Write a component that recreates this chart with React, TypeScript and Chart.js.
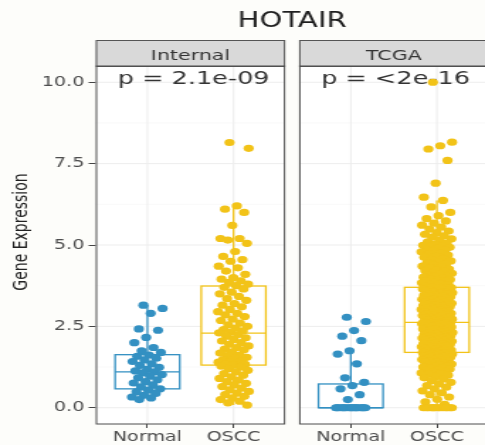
import React, { useEffect, useRef } from "react";
import { Chart, registerables } from "chart.js";

Chart.register(...registerables);

// ---------------- data ----------------
const chartTitle = "HOTAIR";
const yAxisTitle = "Gene Expression";
const panels = ["Internal", "TCGA"];
const groups = ["Normal", "OSCC"];
const pValueLabels = ["p = 2.1e-09", "p = <2e-16"];
const yTickValues = [0, 2.5, 5, 7.5, 10];

// box statistics: [lower whisker, q1, median, q3, upper whisker]
const internalNormalBox = [0.25, 0.58, 1.1, 1.63, 3.15];
const internalOsccBox = [0.08, 1.31, 2.29, 3.74, 6.2];
const tcgaNormalBox = [0, 0, 0, 0.73, 1.75];
const tcgaOsccBox = [0, 1.7, 2.62, 3.7, 6.37];

const internalNormal = [
  3.15, 3.05, 2.9, 2.42, 2.38, 2.16, 2.0, 1.85, 1.75, 1.7, 1.62, 1.58, 1.52,
  1.47, 1.42, 1.35, 1.3, 1.24, 1.18, 1.13, 1.1, 1.07, 1.02, 0.97, 0.92, 0.86,
  0.8, 0.76, 0.7, 0.64, 0.58, 0.54, 0.49, 0.44, 0.38, 0.33, 0.3, 0.25,
];

const internalOscc = [
  8.15, 7.97, 6.2, 6.1, 6.0, 5.6, 5.2, 5.2, 5.15, 5.05, 4.8, 4.65, 4.55, 4.5,
  4.35, 4.3, 4.2, 4.1, 4.0, 3.95, 3.9, 3.85, 3.8, 3.75, 3.7, 3.65, 3.55, 3.5,
  3.42, 3.35, 3.3, 3.2, 3.15, 3.1, 3.02, 2.95, 2.9, 2.85, 2.8, 2.72, 2.68, 2.6,
  2.55, 2.5, 2.45, 2.4, 2.36, 2.32, 2.3, 2.25, 2.2, 2.15, 2.1, 2.05, 2.0, 1.95,
  1.9, 1.85, 1.8, 1.78, 1.72, 1.68, 1.62, 1.6, 1.55, 1.52, 1.48, 1.45, 1.42,
  1.4, 1.38, 1.35, 1.33, 1.31, 1.28, 1.25, 1.2, 1.15, 1.1, 1.05, 1.0, 0.95, 0.9,
  0.85, 0.8, 0.75, 0.7, 0.65, 0.6, 0.55, 0.5, 0.45, 0.4, 0.35, 0.3, 0.25, 0.2,
  0.15, 0.08,
];

const tcgaNormal = [
  2.78, 2.65, 2.37, 2.2, 2.06, 1.75, 1.65, 1.35, 0.92, 0.78, 0.68, 0.58, 0.4,
  0.25, 0, 0, 0, 0, 0, 0, 0, 0, 0, 0, 0, 0, 0, 0, 0, 0, 0, 0,
];

const tcgaOscc = [
  10.0, 8.16, 8.05, 7.95, 7.6, 6.9, 6.47,
  6.37, 6.17, 6.0, 5.9, 5.81, 5.74, 5.67, 5.61, 5.55, 5.49, 5.43, 5.38, 5.33,
  5.28, 5.24, 5.19, 5.15, 5.1, 5.06, 5.02,
  4.99, 4.97, 4.95, 4.93, 4.91, 4.88, 4.85, 4.83, 4.79, 4.76, 4.72, 4.69, 4.65,
  4.62, 4.58, 4.55, 4.51, 4.49, 4.45, 4.42, 4.39, 4.35, 4.33, 4.3, 4.26, 4.24,
  4.21, 4.19, 4.15, 4.13, 4.1, 4.08, 4.05, 4.02, 4.01, 3.99, 3.96, 3.94, 3.91,
  3.9, 3.88, 3.85, 3.84, 3.81, 3.79, 3.78, 3.75, 3.73, 3.72, 3.7,
  3.69, 3.69, 3.68, 3.67, 3.66, 3.65, 3.64, 3.62, 3.61, 3.59, 3.58, 3.56, 3.55,
  3.53, 3.52, 3.5, 3.49, 3.47, 3.45, 3.44, 3.42, 3.41, 3.39, 3.38, 3.36, 3.35,
  3.33, 3.32, 3.3, 3.29, 3.27, 3.26, 3.24, 3.23, 3.21, 3.2, 3.18, 3.17, 3.15,
  3.14, 3.12, 3.11, 3.1, 3.08, 3.07, 3.05, 3.04, 3.02, 3.01, 2.99, 2.98, 2.96,
  2.95, 2.94, 2.92, 2.9, 2.89, 2.88, 2.86, 2.85, 2.83, 2.82, 2.8, 2.79, 2.77,
  2.76, 2.74, 2.73, 2.72, 2.7, 2.69, 2.67, 2.66, 2.64, 2.63,
  2.62, 2.61, 2.61, 2.6, 2.6, 2.59, 2.58, 2.57, 2.56, 2.55, 2.53, 2.52, 2.51,
  2.5, 2.48, 2.47, 2.46, 2.44, 2.43, 2.42, 2.4, 2.39, 2.38, 2.37, 2.35, 2.34,
  2.33, 2.31, 2.3, 2.29, 2.27, 2.26, 2.25, 2.24, 2.22, 2.21, 2.2, 2.18, 2.17,
  2.16, 2.14, 2.13, 2.12, 2.11, 2.09, 2.08, 2.07, 2.05, 2.04, 2.03, 2.01, 2.0,
  1.99, 1.97, 1.96, 1.95, 1.94, 1.92, 1.91, 1.9, 1.88, 1.87, 1.86, 1.84, 1.83,
  1.82, 1.8, 1.79, 1.78, 1.77, 1.75, 1.74, 1.73, 1.71, 1.7,
  1.69, 1.69, 1.69, 1.68, 1.68, 1.67, 1.66, 1.65, 1.64, 1.63, 1.62, 1.61, 1.59,
  1.58, 1.57, 1.55, 1.54, 1.52, 1.51, 1.49, 1.48, 1.46, 1.45, 1.43, 1.41, 1.4,
  1.38, 1.36, 1.34, 1.33, 1.31, 1.29, 1.27, 1.25, 1.23, 1.21, 1.19, 1.16, 1.14,
  1.12, 1.1, 1.07, 1.05, 1.03, 1.0,
  0.96, 0.92, 0.88, 0.83, 0.78, 0.73, 0.68, 0.63, 0.58, 0.52, 0.46, 0.4, 0.33,
  0.26, 0.18, 0.1,
  0, 0, 0, 0, 0, 0, 0, 0, 0, 0, 0, 0, 0, 0,
];

// ---------------- layout / style ----------------
const W = 342;
const H = 445;
const STRETCH = 485 / W;
const X_MIN = 0.4;
const X_MAX = 4.86;
const PANEL_SPAN = 2.2;
const PANEL_STEP = 2.361;
const BOX_HALF = 0.375;
const JITTER = 0.18;
const STRIP_TOP = 40;
const FONT = '"DejaVu Sans", sans-serif';
const BG = "#fdfdfa";
const groupColors = ["#3390c2", "#f2c318"];

const series = [
  { panel: 0, group: 0, values: internalNormal, box: internalNormalBox },
  { panel: 0, group: 1, values: internalOscc, box: internalOsccBox },
  { panel: 1, group: 0, values: tcgaNormal, box: tcgaNormalBox },
  { panel: 1, group: 1, values: tcgaOscc, box: tcgaOsccBox },
];

const catCenter = (p: number, g: number) => 1 + g + p * PANEL_STEP;
// deterministic, evenly spread horizontal jitter (layout only)
const jitter = (i: number) => (((i * 0.6180339887 + 0.37) % 1) * 2 - 1) * JITTER;

const xTickValues = panels.flatMap((_, p) => groups.map((_, g) => catCenter(p, g)));
const xTickLabels = panels.flatMap(() => groups);

const facetPlugin = {
  id: "facets",
  beforeDraw(chart: any) {
    const { ctx } = chart;
    ctx.save();
    ctx.fillStyle = BG;
    ctx.fillRect(0, 0, chart.width, chart.height);
    ctx.restore();
  },
  beforeDatasetsDraw(chart: any) {
    const { ctx, chartArea } = chart;
    const x = chart.scales.x;
    const y = chart.scales.y;
    const t = chartArea.top;
    const b = chartArea.bottom;
    ctx.save();
    panels.forEach((name, p) => {
      const l = x.getPixelForValue(X_MIN + p * PANEL_STEP);
      const r = x.getPixelForValue(X_MIN + PANEL_SPAN + p * PANEL_STEP);
      ctx.fillStyle = "#ffffff";
      ctx.fillRect(l, t, r - l, b - t);
      // minor grid
      ctx.strokeStyle = "#f5f5f5";
      ctx.lineWidth = 0.6;
      for (let i = 0; i < yTickValues.length - 1; i++) {
        const py = y.getPixelForValue((yTickValues[i] + yTickValues[i + 1]) / 2);
        ctx.beginPath();
        ctx.moveTo(l, py);
        ctx.lineTo(r, py);
        ctx.stroke();
      }
      // major grid
      ctx.strokeStyle = "#ededed";
      ctx.lineWidth = 1;
      yTickValues.forEach((v) => {
        const py = y.getPixelForValue(v);
        ctx.beginPath();
        ctx.moveTo(l, py);
        ctx.lineTo(r, py);
        ctx.stroke();
      });
      groups.forEach((_, g) => {
        const px = x.getPixelForValue(catCenter(p, g));
        ctx.beginPath();
        ctx.moveTo(px, t);
        ctx.lineTo(px, b);
        ctx.stroke();
      });
      // strip
      ctx.fillStyle = "#d9d9d9";
      ctx.fillRect(l, STRIP_TOP, r - l, t - STRIP_TOP);
      ctx.strokeStyle = "#555555";
      ctx.lineWidth = 1;
      ctx.strokeRect(l + 0.5, STRIP_TOP + 0.5, r - l - 1, t - STRIP_TOP);
      ctx.fillStyle = "#333333";
      ctx.font = `14.5px ${FONT}`;
      ctx.textAlign = "center";
      ctx.textBaseline = "alphabetic";
      ctx.fillText(name, (l + r) / 2, 59.5);
      // p value
      ctx.fillStyle = "#333333";
      ctx.font = `18px ${FONT}`;
      ctx.textAlign = "left";
      ctx.fillText(pValueLabels[p], l + 15.5, 84);
    });
    // boxes
    series.forEach((s) => {
      const c = catCenter(s.panel, s.group);
      const [lo, q1, med, q3, hi] = s.box;
      const bl = x.getPixelForValue(c - BOX_HALF);
      const br = x.getPixelForValue(c + BOX_HALF);
      const cx = x.getPixelForValue(c);
      const y1 = y.getPixelForValue(q1);
      const y3 = y.getPixelForValue(q3);
      ctx.strokeStyle = groupColors[s.group];
      ctx.fillStyle = "#ffffff";
      ctx.lineWidth = 1.3;
      ctx.fillRect(bl, y3, br - bl, y1 - y3);
      ctx.strokeRect(bl, y3, br - bl, y1 - y3);
      ctx.beginPath();
      ctx.moveTo(bl, y.getPixelForValue(med));
      ctx.lineTo(br, y.getPixelForValue(med));
      ctx.moveTo(cx, y3);
      ctx.lineTo(cx, y.getPixelForValue(hi));
      ctx.moveTo(cx, y1);
      ctx.lineTo(cx, y.getPixelForValue(lo));
      ctx.stroke();
    });
    // title
    const left = x.getPixelForValue(X_MIN);
    const right = x.getPixelForValue(X_MIN + PANEL_SPAN + PANEL_STEP);
    ctx.fillStyle = "#1e1e1e";
    ctx.font = `20.5px ${FONT}`;
    ctx.textAlign = "center";
    ctx.textBaseline = "alphabetic";
    ctx.fillText(chartTitle, (left + right) / 2, 27);
    // y axis title
    ctx.translate(15.3, (STRIP_TOP + b) / 2);
    ctx.rotate(-Math.PI / 2);
    ctx.fillStyle = "#222222";
    ctx.font = `14px ${FONT}`;
    ctx.textBaseline = "middle";
    ctx.fillText(yAxisTitle, 0, 0);
    ctx.restore();
  },
  afterDatasetsDraw(chart: any) {
    const { ctx, chartArea } = chart;
    const x = chart.scales.x;
    ctx.save();
    ctx.strokeStyle = "#4d4d4d";
    ctx.lineWidth = 1;
    panels.forEach((_, p) => {
      const l = x.getPixelForValue(X_MIN + p * PANEL_STEP);
      const r = x.getPixelForValue(X_MIN + PANEL_SPAN + p * PANEL_STEP);
      ctx.strokeRect(l + 0.5, chartArea.top, r - l - 1, chartArea.bottom - chartArea.top);
    });
    ctx.restore();
  },
};

export default function App() {
  const ref = useRef<HTMLCanvasElement | null>(null);

  useEffect(() => {
    if (!ref.current) return;
    const chart = new Chart(ref.current, {
      type: "scatter",
      data: {
        datasets: series.map((s) => ({
          label: `${panels[s.panel]} ${groups[s.group]}`,
          data: s.values.map((v, i) => ({ x: catCenter(s.panel, s.group) + jitter(i), y: v })),
          backgroundColor: groupColors[s.group],
          borderColor: groupColors[s.group],
          borderWidth: 0,
          pointRadius: 3.6,
          pointHoverRadius: 3.6,
        })),
      },
      options: {
        animation: false,
        responsive: false,
        maintainAspectRatio: false,
        devicePixelRatio: 1,
        events: [],
        layout: { padding: { top: 66, left: 0, right: 0, bottom: 0 } },
        plugins: {
          legend: { display: false },
          tooltip: { enabled: false },
          title: { display: false },
        },
        scales: {
          x: {
            type: "linear",
            min: X_MIN,
            max: X_MAX,
            afterBuildTicks: (s: any) => {
              s.ticks = xTickValues.map((v) => ({ value: v }));
            },
            afterFit: (s: any) => {
              s.height = H - 424;
            },
            ticks: {
              autoSkip: false,
              maxRotation: 0,
              minRotation: 0,
              padding: 1,
              color: "#4d4d4d",
              font: { family: FONT, size: 13.5 },
              callback: (_v: any, i: number) => xTickLabels[i],
            },
            grid: {
              drawOnChartArea: false,
              drawTicks: true,
              tickLength: 4,
              color: "#444444",
              tickColor: "#444444",
            },
            border: { display: false },
          },
          y: {
            type: "linear",
            min: -0.5,
            max: 10.5,
            afterBuildTicks: (s: any) => {
              s.ticks = yTickValues.map((v) => ({ value: v }));
            },
            afterFit: (s: any) => {
              s.width = 67.5;
            },
            ticks: {
              padding: 3,
              color: "#4d4d4d",
              font: { family: FONT, size: 13.5 },
              callback: (v: any) => Number(v).toFixed(1),
            },
            grid: {
              drawOnChartArea: false,
              drawTicks: true,
              tickLength: 5,
              color: "#444444",
              tickColor: "#444444",
            },
            border: { display: false },
          },
        },
      },
      plugins: [facetPlugin],
    });
    return () => chart.destroy();
  }, []);

  return (
    <div
      style={{
        position: "absolute",
        left: 0,
        top: 0,
        width: 485,
        height: 445,
        overflow: "hidden",
        background: BG,
      }}
    >
      <div
        style={{
          width: W,
          height: H,
          transform: `scaleX(${STRETCH})`,
          transformOrigin: "0 0",
        }}
      >
        <canvas ref={ref} width={W} height={H} style={{ width: W, height: H, display: "block" }} />
      </div>
    </div>
  );
}
